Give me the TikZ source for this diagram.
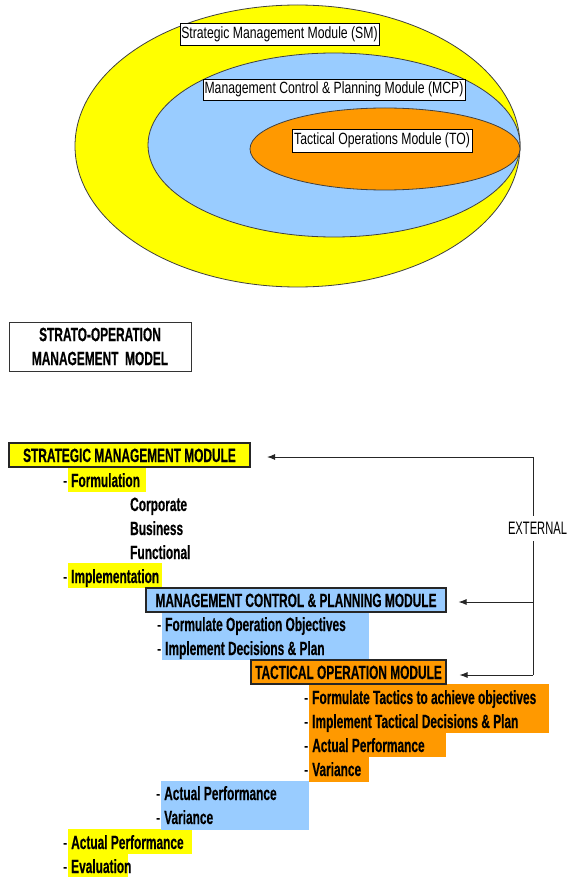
\documentclass[tikz,border=0pt]{standalone}
\usepackage{fontspec}
\setmainfont{Liberation Sans}
\newfontfamily\ellfont{Liberation Sans}[FakeStretch=0.75]
\newfontfamily\narfont{Liberation Sans}[FakeStretch=0.62,FakeBold=0.4]
\newfontfamily\extfont{Liberation Sans}[FakeStretch=0.62]
\usetikzlibrary{shapes.geometric,arrows.meta}
\definecolor{smyellow}{HTML}{FFFF00}
\definecolor{mcpblue}{HTML}{99CCFF}
\definecolor{toorange}{HTML}{FF9900}
\newcommand{\dsh}{\llap{\mdseries-\hspace{4pt}}}
\begin{document}
\begin{tikzpicture}[x=1pt,y=-1pt,
  oval/.style={ellipse,draw=black!75,line width=0.8pt,inner sep=0},
  ovallabel/.style={draw=black,fill=white,line width=0.8pt,inner sep=0,
    font=\ellfont\fontsize{16.3}{18}\selectfont},
  modbox/.style={draw=black!85,line width=1.1pt,inner sep=0,minimum height=24pt,
    text height=14pt,text depth=0pt,
    font=\narfont\bfseries\fontsize{19.2}{20}\selectfont},
  item/.style={anchor=west,inner sep=0,text height=14pt,text depth=0pt,
    font=\narfont\bfseries\fontsize{19.2}{20}\selectfont},
  arr/.style={-{Latex[length=8pt,width=6pt]},line width=0.9pt,draw=black!85}
]
\useasboundingbox (0,0) rectangle (567,877);
\fill[white] (0,0) rectangle (567,877);

% --- nested ellipses ---
\node[oval,fill=smyellow,minimum width=445pt,minimum height=282pt] (smell) at (297.5,146) {};
\node[oval,fill=mcpblue,minimum width=372pt,minimum height=184pt] (mcpell) at (334,145) {};
\node[oval,fill=toorange,minimum width=270pt,minimum height=82pt] (toell) at (385,149) {};

\node[ovallabel,minimum width=199pt,minimum height=22pt] (smlab) at (279.5,34) {Strategic Management Module (SM)};
\node[ovallabel,minimum width=262pt,minimum height=21pt] (mcplab) at (334,89.5) {Management Control \& Planning Module (MCP)};
\node[ovallabel,minimum width=180pt,minimum height=23pt] (tolab) at (382,140.5) {Tactical Operations Module (TO)};

% --- title ---
\node[draw=black!80,line width=1pt,inner sep=0,minimum width=182pt,minimum height=49pt,
  align=center,font=\narfont\bfseries\fontsize{19.2}{24}\selectfont] (title) at (100,346.5)
  {STRATO-OPERATION\\MANAGEMENT\ \ MODEL};

% --- highlight blocks ---
\fill[smyellow] (68,468) rectangle (146,492);
\fill[smyellow] (68,563) rectangle (162,588);
\fill[smyellow] (68,829) rectangle (192,854);
\fill[smyellow] (68,854) rectangle (128,877);
\fill[mcpblue] (162,612) rectangle (369,660);
\fill[mcpblue] (161,781) rectangle (309,830);
\fill[toorange] (309,684) rectangle (549,733);
\fill[toorange] (309,733) rectangle (446,757);
\fill[toorange] (309,757) rectangle (369,782);

% --- module boxes ---
\node[modbox,fill=smyellow,minimum width=241pt] (smbox) at (129.5,455) {STRATEGIC MANAGEMENT MODULE};
\node[modbox,fill=mcpblue,minimum width=300pt] (mcpbox) at (296,600) {MANAGEMENT CONTROL \& PLANNING MODULE};
\node[modbox,fill=toorange,minimum width=195pt] (tobox) at (348.5,672) {TACTICAL OPERATION MODULE};

% --- list items ---
\node[item] (sm1) at (71,480) {\dsh Formulation};
\node[item] (sm1a) at (130,504) {Corporate};
\node[item] (sm1b) at (130,528) {Business};
\node[item] (sm1c) at (130,552) {Functional};
\node[item] (sm2) at (71,576) {\dsh Implementation};
\node[item] (mcp1) at (165,624) {\dsh Formulate Operation Objectives};
\node[item] (mcp2) at (165,648) {\dsh Implement Decisions \& Plan};
\node[item] (to1) at (312,697) {\dsh Formulate Tactics to achieve objectives};
\node[item] (to2) at (312,721) {\dsh Implement Tactical Decisions \& Plan};
\node[item] (to3) at (312,745) {\dsh Actual Performance};
\node[item] (to4) at (312,769) {\dsh Variance};
\node[item] (mcp3) at (164,793) {\dsh Actual Performance};
\node[item] (mcp4) at (164,817) {\dsh Variance};
\node[item] (sm3) at (71,842) {\dsh Actual Performance};
\node[item] (sm4) at (71,866) {\dsh Evaluation};

% --- external feedback ---
\coordinate (ext1) at (533,457);
\coordinate (ext2) at (533,602);
\coordinate (ext3) at (533,675);
\draw[line width=0.9pt,draw=black!85] (ext1) -- (ext3);
\node[fill=white,inner sep=0,minimum height=25pt,text height=13pt,text depth=0pt,
  font=\extfont\fontsize{18}{20}\selectfont] (ext) at (537.5,528) {EXTERNAL};
\draw[arr,shorten >=16.5pt] (ext1) -- (smbox.east |- ext1);
\draw[arr,shorten >=12pt] (ext2) -- (mcpbox.east |- ext2);
\draw[arr,shorten >=13pt] (ext3) -- (tobox.east |- ext3);
\end{tikzpicture}
\end{document}
